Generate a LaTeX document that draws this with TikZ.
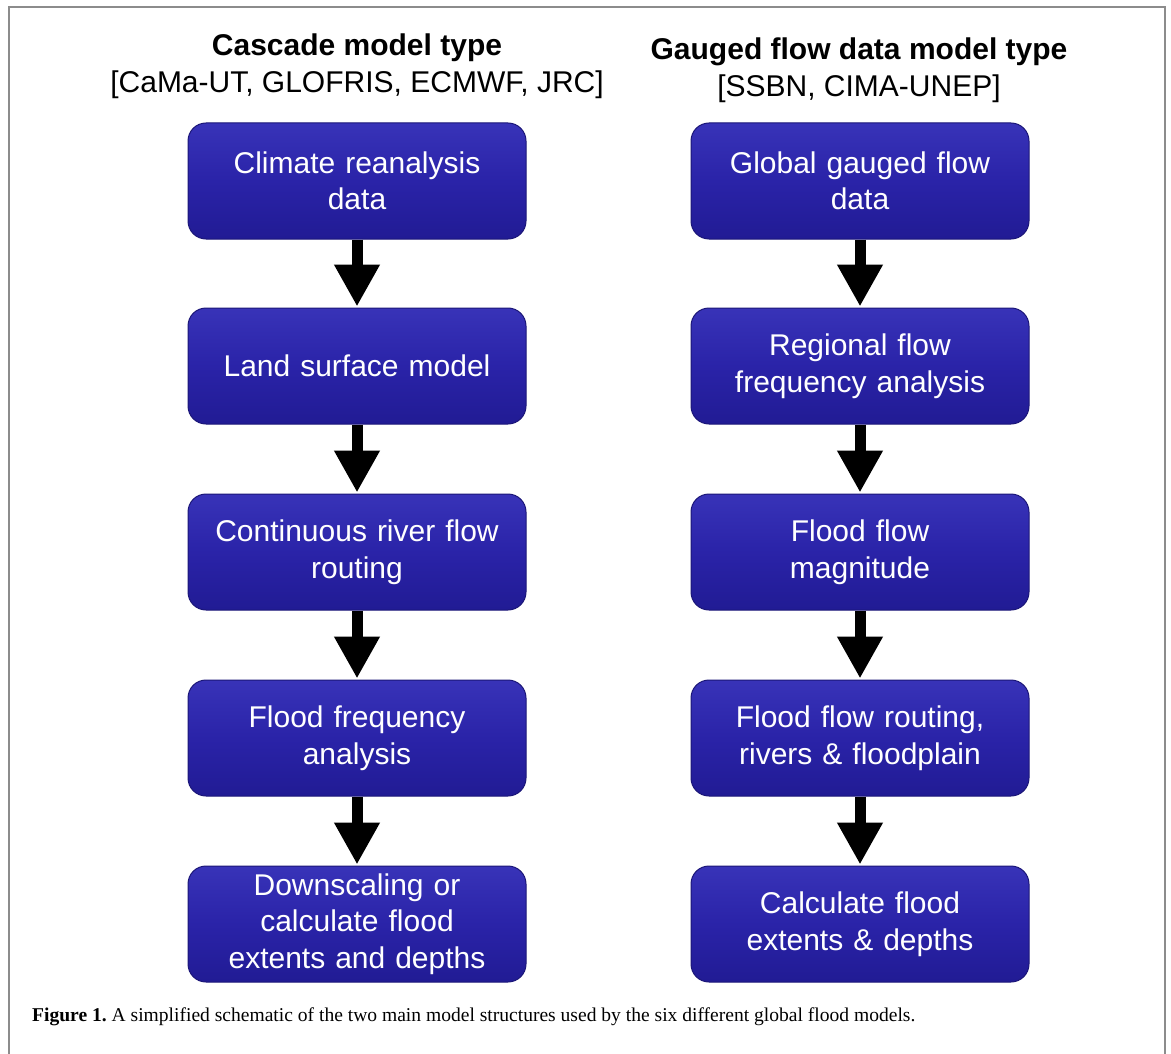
\documentclass[tikz,border=0pt]{standalone}
\usepackage{fontspec}
\setmainfont{Liberation Sans}
\newfontfamily\capfont{Liberation Serif}
\usetikzlibrary{arrows.meta}
\definecolor{boxmid}{HTML}{2A23A8}
\definecolor{boxtop}{HTML}{3833B8}
\definecolor{boxbot}{HTML}{211B94}
\definecolor{boxedge}{HTML}{1B1678}
\definecolor{framegray}{HTML}{8C8C8C}
\tikzset{
  flowbox/.style={rectangle, rounded corners=18pt, minimum width=338pt, minimum height=116pt,
    inner sep=0pt, text width=330pt, align=center, text=white,
    top color=boxtop, bottom color=boxbot, middle color=boxmid, draw=boxedge, line width=1pt,
    font=\fontsize{30}{36.5}\selectfont},
  flowarrow/.style={line width=11pt, -{Triangle[length=42pt,width=43pt]}, shorten >=1pt},
  titletext/.style={anchor=base, font=\fontsize{30}{36}\selectfont\bfseries},
  subtext/.style={anchor=base, font=\fontsize{30}{36}\selectfont},
}
\begin{document}
\frenchspacing
\begin{tikzpicture}[x=1pt,y=-1pt]
\useasboundingbox (0,0) rectangle (1171,1054);
\draw[framegray, line width=2pt] (8.5,1054) -- (8.5,7.5) -- (1164.5,7.5) -- (1164.5,1054);
% titles
\node[titletext] (tl) at (357,56) {Cascade model type};
\node[subtext] (sl) at (357,93) {[CaMa-UT, GLOFRIS, ECMWF, JRC]};
\node[titletext] (tr) at (859,60) {Gauged flow data model type};
\node[subtext] (sr) at (859,97) {[SSBN, CIMA-UNEP]};
% left column
\node[flowbox] (l1) at (357,181) {Climate reanalysis\\data};
\node[flowbox] (l2) at (357,366) {Land surface model};
\node[flowbox] (l3) at (357,552) {Continuous river flow\\routing};
\node[flowbox] (l4) at (357,738) {Flood frequency\\analysis};
\node[flowbox] (l5) at (357,924) {Downscaling or\\calculate flood\\extents and depths};
% right column
\node[flowbox] (r1) at (860,181) {Global gauged flow\\data};
\node[flowbox] (r2) at (860,366) {Regional flow\\frequency analysis};
\node[flowbox] (r3) at (860,552) {Flood flow\\magnitude};
\node[flowbox] (r4) at (860,738) {Flood flow routing,\\rivers \& floodplain};
\node[flowbox] (r5) at (860,924) {Calculate flood\\extents \& depths};
% arrows
\foreach \a/\b in {l1/l2,l2/l3,l3/l4,l4/l5,r1/r2,r2/r3,r3/r4,r4/r5}
  \draw[flowarrow] (\a.south) -- (\b.north);
% caption
\node[anchor=base west, inner sep=0pt, font=\capfont\fontsize{19.55}{24}\selectfont] (cap) at (32,1021)
  {\textbf{Figure 1.} A simplified schematic of the two main model structures used by the six different global flood models.};
\end{tikzpicture}
\end{document}
